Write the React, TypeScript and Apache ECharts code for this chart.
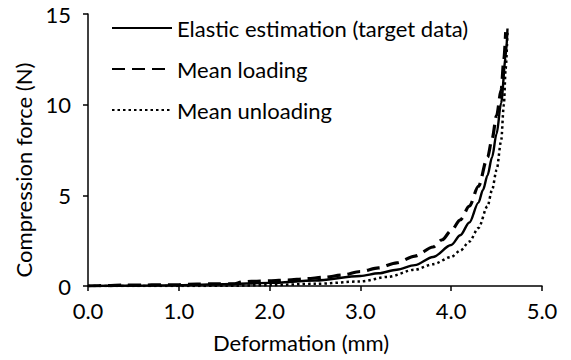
import React, { useEffect, useRef } from "react";
import * as echarts from "echarts";

const seriesNames = ["Elastic estimation (target data)", "Mean loading", "Mean unloading"];

const elasticX = [0, 0.5, 1.0, 1.5, 2.0, 2.5, 3.0, 3.2, 3.4, 3.6, 3.8, 4.0, 4.1, 4.2, 4.3, 4.35, 4.4, 4.45, 4.5, 4.55, 4.6, 4.62];
const elasticY = [0, 0.02, 0.05, 0.1, 0.17, 0.3, 0.55, 0.7, 0.9, 1.15, 1.6, 2.26, 2.8, 3.5, 4.6, 5.3, 6.1, 7.1, 8.4, 10.1, 12.6, 14.2];

const loadX = [0, 0.2, 0.4, 0.6, 0.8, 1.0, 1.2, 1.4, 1.6, 1.7, 1.8, 2.0, 2.2, 2.4, 2.6, 2.8, 3.0, 3.2, 3.4, 3.6, 3.8, 3.9, 4.0, 4.1, 4.2, 4.3, 4.4, 4.45, 4.5, 4.55, 4.58, 4.6];
const loadY = [0, 0.02, 0.05, 0.05, 0.07, 0.07, 0.1, 0.12, 0.12, 0.22, 0.25, 0.28, 0.33, 0.4, 0.48, 0.6, 0.8, 1.0, 1.28, 1.65, 2.15, 2.55, 3.05, 3.65, 4.4, 5.5, 7.1, 8.1, 9.4, 10.8, 12.5, 14.0];

const unloadX = [0, 0.5, 1.0, 1.5, 2.0, 2.5, 3.0, 3.3, 3.6, 3.8, 4.0, 4.1, 4.2, 4.3, 4.4, 4.45, 4.5, 4.55, 4.58, 4.6, 4.62];
const unloadY = [0, 0, 0, 0.01, 0.05, 0.12, 0.25, 0.5, 0.9, 1.2, 1.6, 1.95, 2.45, 3.2, 4.4, 5.3, 6.4, 8.0, 10.0, 12.0, 14.0];

const xAxisName = "Deformation (mm)";
const yAxisName = "Compression force (N)";

const pairs = (xs: number[], ys: number[]) => xs.map((x, i) => [x, ys[i]]);

const FONT = "Lato";
const FS = 22;

export default function App() {
  const ref = useRef<HTMLDivElement>(null);
  useEffect(() => {
    if (!ref.current) return;
    const chart = echarts.init(ref.current, undefined, { renderer: "svg" });
    chart.setOption({
      animation: false,
      backgroundColor: "#fff",
      color: ["#000", "#000", "#000"],
      textStyle: { fontFamily: FONT },
      grid: { left: 88, right: 29, top: 14, bottom: 74, containLabel: false },
      legend: {
        orient: "vertical",
        left: 111,
        top: 17,
        padding: 0,
        itemWidth: 60,
        itemHeight: 14,
        itemGap: 19,
        itemStyle: { opacity: 0 },
        textStyle: { fontFamily: FONT, fontSize: FS, color: "#000" },
        data: seriesNames,
      },
      xAxis: {
        type: "value",
        min: 0,
        max: 5,
        interval: 1,
        name: xAxisName,
        nameLocation: "middle",
        nameGap: 45,
        nameTextStyle: { fontFamily: FONT, fontSize: FS, color: "#000", padding: [0, 28, 0, 0] },
        axisLine: { show: true, lineStyle: { color: "#000", width: 1.5 } },
        axisTick: { show: true, inside: false, length: 5, lineStyle: { color: "#000", width: 1.5 } },
        axisLabel: { fontFamily: FONT, fontSize: FS, color: "#000", margin: 13, formatter: (v: number) => v.toFixed(1) },
        splitLine: { show: false },
      },
      yAxis: {
        type: "value",
        min: 0,
        max: 15,
        interval: 5,
        name: yAxisName,
        nameLocation: "middle",
        nameGap: 51,
        nameTextStyle: { fontFamily: FONT, fontSize: FS, color: "#000", padding: [0, 40, 0, 0] },
        axisLine: { show: true, lineStyle: { color: "#000", width: 1.5 } },
        axisTick: { show: true, inside: false, length: 5, lineStyle: { color: "#000", width: 1.5 } },
        axisLabel: { fontFamily: FONT, fontSize: FS, color: "#000", margin: 17 },
        splitLine: { show: false },
      },
      series: [
        {
          name: seriesNames[0],
          type: "line",
          data: pairs(elasticX, elasticY),
          symbol: "none",
          smooth: 0.3,
          smoothMonotone: "x",
          itemStyle: { color: "#000" },
          lineStyle: { color: "#000", width: 2.4, type: "solid" },
          z: 3,
        },
        {
          name: seriesNames[1],
          type: "line",
          data: pairs(loadX, loadY),
          symbol: "none",
          smooth: 0.3,
          smoothMonotone: "x",
          itemStyle: { color: "#000" },
          lineStyle: { color: "#000", width: 3.2, type: [13, 7] },
          z: 2,
        },
        {
          name: seriesNames[2],
          type: "line",
          data: pairs(unloadX, unloadY),
          symbol: "none",
          smooth: 0.3,
          smoothMonotone: "x",
          itemStyle: { color: "#000" },
          lineStyle: { color: "#000", width: 2.5, type: [2.5, 3] },
          z: 2,
        },
      ],
    });
    return () => chart.dispose();
  }, []);
  return <div ref={ref} style={{ width: 571, height: 360, position: "absolute", left: 0, top: 0 }} />;
}
